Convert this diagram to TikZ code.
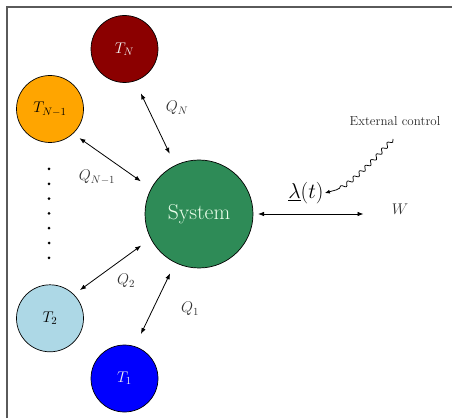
\RequirePackage{fix-cm}
\documentclass[tikz,border=0pt]{standalone}
\usetikzlibrary{arrows.meta,decorations.pathmorphing}
\definecolor{bathred}{HTML}{8B0000}
\definecolor{bathorange}{HTML}{FFA500}
\definecolor{bathlightblue}{HTML}{ADD8E6}
\definecolor{bathblue}{HTML}{0000FF}
\definecolor{sysgreen}{HTML}{2E8B57}
\definecolor{framegray}{HTML}{5A5A5A}
\newcommand\fsN{\fontsize{15.5}{18}\selectfont}
\newcommand\fsS{\fontsize{13}{15}\selectfont}
\newcommand\fsL{\fontsize{21.6}{26}\selectfont}
\begin{document}
\begin{tikzpicture}[x=1pt,y=1pt,
  bath/.style={circle, draw=black, line width=0.7pt, minimum size=67pt, inner sep=0pt, outer sep=0pt, font=\fsN},
  lbl/.style={font=\fsN, text=black!80, inner sep=0pt},
  flow/.style={<->, line width=0.8pt, >={Latex[length=6pt,width=4.5pt]}},
  dotmark/.style={circle, fill=black, inner sep=0pt, minimum size=3pt}
]
\useasboundingbox (0,0) rectangle (452,418);
% frame
\draw[framegray, line width=1.5pt] (6.8,0) -- (6.8,411.2) -- (452,411.2);
% reservoirs
\node[bath, fill=bathred, text=white!88!gray] (TN) at (124.5,369) {$T_N$};
\node[bath, fill=bathorange] (TN1) at (50,309) {$T_{N-1}$};
\node[bath, fill=bathlightblue] (T2) at (50,99.7) {$T_2$};
\node[bath, fill=bathblue, text=white!88!gray] (T1) at (124.5,39.5) {$T_1$};
\node[circle, draw=black, line width=0.7pt, fill=sysgreen, minimum size=108pt, inner sep=0pt, outer sep=0pt, font=\fsL, text=white!92!green] (S) at (199,204) {System};
% dots
\foreach \k in {0,...,6} \node[dotmark] (d\k) at (49,249-14.8*\k) {};
% heat flows
\draw[flow, shorten <=13.9pt, shorten >=13pt] (TN.-72) -- (S.116);
\draw[flow, shorten <=8pt, shorten >=12.8pt] (TN1.-47) -- (S.152);
\draw[flow, shorten <=7.7pt, shorten >=12pt] (T2.45) -- (S.-153);
\draw[flow, shorten <=14pt, shorten >=12pt] (T1.72) -- (S.-116.6);
% labels
\node[lbl] (QN) at (177,310) {$Q_N$};
\node[lbl] (QN1) at (97,241) {$Q_{N-1}$};
\node[lbl] (Q2) at (126,137) {$Q_2$};
\node[lbl] (Q1) at (190,109) {$Q_1$};
% work
\node[lbl] (W) at (400,209) {$W$};
\draw[flow, shorten <=5pt, shorten >=28pt] (S.east) -- (W.west |- S.east);
% control
\node[font=\fsS, text=black!85, inner sep=0pt] (ext) at (395,297) {External control};
\node[font=\fsL, inner sep=0pt] (lam) at (306,225) {$\underline{\lambda}(t)$};
\coordinate (ws) at (393,279);
\draw[line width=0.75pt, -{Latex[length=5pt,width=4pt]}, decorate,
  decoration={snake, amplitude=2pt, segment length=8pt, post length=12pt}]
  (ws) to[out=-133, in=0, looseness=0.6] ([xshift=1pt]lam.east);
\end{tikzpicture}
\end{document}
